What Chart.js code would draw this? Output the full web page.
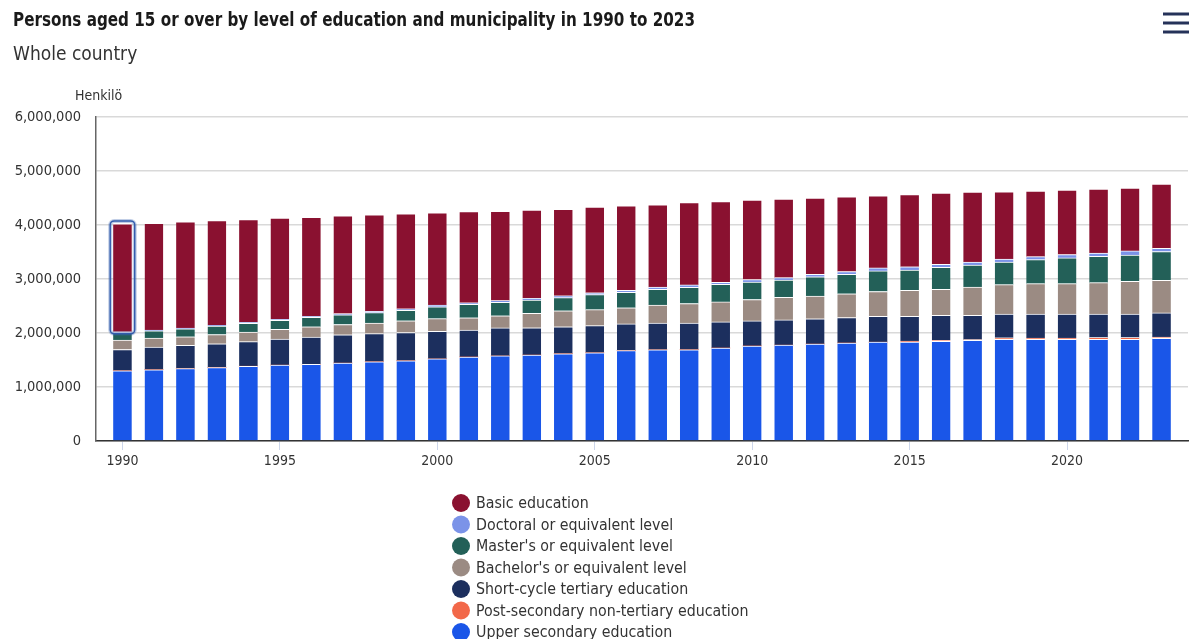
<!DOCTYPE html>
<html>
<head>
<meta charset="utf-8">
<script src="https://cdn.jsdelivr.net/npm/chart.js@4.4.0/dist/chart.umd.min.js"></script>
<style>
html,body{margin:0;padding:0;background:#fff;overflow:hidden}
#wrap{width:1190px;height:639px;position:relative}
</style>
</head>
<body>
<div id="wrap"><canvas id="c" width="1190" height="639"></canvas></div>
<script>
// ---------- DATA ----------
const years = [1990,1991,1992,1993,1994,1995,1996,1997,1998,1999,2000,2001,2002,2003,2004,2005,2006,2007,2008,2009,2010,2011,2012,2013,2014,2015,2016,2017,2018,2019,2020,2021,2022,2023];

const upperSecondary = [1300000,1320000,1340000,1360000,1385000,1405000,1420000,1443000,1467000,1485000,1520000,1556000,1575000,1592000,1616000,1633000,1673000,1688000,1690000,1722000,1760000,1775000,1795000,1815000,1830000,1830000,1845000,1865000,1885000,1885000,1885000,1885000,1885000,1900000];
const postSecondary = [0,0,0,0,0,0,0,0,0,0,0,0,0,0,0,0,0,0,0,0,0,0,0,0,0,20000,20000,12000,25000,22000,22000,30000,30000,25000];
const shortCycle = [395000,420000,430000,440000,455000,482000,505000,524000,520000,525000,510000,497000,519000,503000,500000,503000,495000,498000,496000,483000,464000,467000,468000,470000,478000,458000,460000,449000,441000,444000,444000,436000,436000,447000];
const bachelors = [175000,165000,160000,170000,175000,183000,190000,191000,198000,215000,235000,229000,226000,270000,294000,296000,300000,332000,359000,370000,396000,418000,422000,440000,460000,482000,482000,526000,544000,562000,562000,581000,606000,603000];
const masters = [140000,135000,148000,158000,165000,165000,173000,178000,191000,195000,221000,248000,250000,245000,245000,278000,287000,291000,301000,325000,324000,320000,355000,362000,382000,377000,410000,408000,420000,445000,477000,486000,488000,532000];
const doctoral = [12000,14000,15000,16000,18000,20000,21000,22000,24000,28000,30000,30000,30000,32000,35000,35000,36000,40000,45000,38000,45000,45000,48000,50000,55000,58000,55000,52000,55000,55000,62000,62000,75000,60000];
const basic = [1998000,1976000,1967000,1936000,1902000,1871000,1835000,1812000,1787000,1758000,1708000,1690000,1655000,1632000,1602000,1585000,1563000,1524000,1525000,1496000,1471000,1453000,1409000,1384000,1335000,1339000,1318000,1296000,1245000,1214000,1193000,1184000,1163000,1190000];

const yTicks = [0,1000000,2000000,3000000,4000000,5000000,6000000];
const xTickYears = [1990,1995,2000,2005,2010,2015,2020];

const titleText = "Persons aged 15 or over by level of education and municipality in 1990 to 2023";
const subtitleText = "Whole country";
const unitLabel = "Henkilö";

// ---------- STYLE ----------
const FONT = "'Liberation Sans Narrow', 'DejaVu Sans Condensed', Roboto, sans-serif";
Chart.defaults.font.family = FONT;
Chart.defaults.color = '#333';

const series = [
  {label: 'Upper secondary education', data: upperSecondary, color: '#1a56e8'},
  {label: 'Post-secondary non-tertiary education', data: postSecondary, color: '#f26849'},
  {label: 'Short-cycle tertiary education', data: shortCycle, color: '#1c2f5e'},
  {label: "Bachelor's or equivalent level", data: bachelors, color: '#9b8b83'},
  {label: "Master's or equivalent level", data: masters, color: '#236058'},
  {label: 'Doctoral or equivalent level', data: doctoral, color: '#7b93e8'},
  {label: 'Basic education', data: basic, color: '#8a1130'}
];

function fitText(c, text, x, y, targetW) {
  const w = c.measureText(text).width;
  const sx = Math.min(1, targetW / w);
  c.save();
  c.translate(x, y);
  c.scale(sx, 1);
  c.fillText(text, 0, 0);
  c.restore();
}

const customDraw = {
  id: 'customDraw',
  afterDraw(chart) {
    const c = chart.ctx, a = chart.chartArea;
    c.save();
    c.textAlign = 'left';
    c.textBaseline = 'middle';

    // title + subtitle
    c.fillStyle = '#1a1a1a';
    c.font = `bold 20px ${FONT}`;
    fitText(c, titleText, 13, 21, 682);
    c.fillStyle = '#333';
    c.font = `19px ${FONT}`;
    c.fillText(subtitleText, 13, 55);

    // unit label above y axis
    c.font = `14px ${FONT}`;
    c.fillStyle = '#333';
    c.fillText(unitLabel, a.left - 21, a.top - 21);

    // hamburger menu icon
    c.strokeStyle = '#253259';
    c.lineWidth = 3;
    [14, 23, 32].forEach(yy => {
      c.beginPath(); c.moveTo(chart.width - 27, yy); c.lineTo(chart.width - 1, yy); c.stroke();
    });

    // hover highlight around first basic-education segment
    const meta = chart.getDatasetMeta(series.length - 1);
    const el = meta.data[0];
    if (el) {
      const p = el.getProps(['x', 'y', 'base', 'width'], true);
      const rx = p.x - p.width / 2 - 3, ry = p.y - 3, rw = p.width + 6, rh = p.base - p.y + 5;
      c.strokeStyle = 'rgba(51,92,173,0.3)';
      c.lineWidth = 4;
      c.beginPath(); c.roundRect(rx, ry, rw, rh, 4); c.stroke();
      c.strokeStyle = '#335cad';
      c.lineWidth = 1.5;
      c.beginPath(); c.roundRect(rx, ry, rw, rh, 4); c.stroke();
    }

    // legend (vertical, top item = top of stack)
    const items = chart.data.datasets.map(d => ({text: d.label, color: d.backgroundColor})).reverse();
    c.font = `15.8px ${FONT}`;
    const r = 9, gap = 6;
    const x0 = 452;
    let y = a.bottom + 62;
    items.forEach(it => {
      c.fillStyle = it.color;
      c.beginPath(); c.arc(x0 + r, y, r, 0, Math.PI * 2); c.fill();
      c.fillStyle = '#333';
      c.fillText(it.text, x0 + 2 * r + gap, y + 1);
      y += 21.5;
    });
    c.restore();
  }
};

new Chart(document.getElementById('c'), {
  type: 'bar',
  data: {
    labels: years,
    datasets: series.map(s => ({
      label: s.label,
      data: s.data,
      backgroundColor: s.color,
      borderColor: '#ffffff',
      borderWidth: {top: 1, left: 0, right: 0, bottom: 0},
      barThickness: 18.5
    }))
  },
  options: {
    responsive: false,
    animation: false,
    events: [],
    layout: {padding: {left: 13, right: 2, top: 117, bottom: 168}},
    plugins: {
      legend: {display: false},
      tooltip: {enabled: false},
      title: {display: false},
      subtitle: {display: false}
    },
    scales: {
      x: {
        type: 'linear', stacked: true, min: 1989.16, max: 2023.84, offset: false,
        afterBuildTicks(s) { s.ticks = xTickYears.map(v => ({value: v})); },
        afterFit(s) { s.height = 30; },
        grid: {offset: false, drawOnChartArea: false, drawTicks: true, tickLength: 9, color: '#ccd6eb', lineWidth: 1},
        border: {display: true, color: '#333', width: 1.5},
        ticks: {callback: v => String(v), color: '#333', font: {size: 14}, padding: 3, maxRotation: 0, autoSkip: false}
      },
      y: {
        stacked: true, min: 0, max: 6000000,
        afterBuildTicks(s) { s.ticks = yTicks.map(v => ({value: v})); },
        afterFit(s) { s.width = 83; },
        grid: {color: '#d9d9d9', lineWidth: 1.5, drawTicks: false},
        border: {display: true, color: '#666', width: 1.5},
        ticks: {color: '#333', font: {size: 14.5}, padding: 15,
          callback: v => v.toLocaleString('en-US')}
      }
    }
  },
  plugins: [customDraw]
});
</script>
</body>
</html>
